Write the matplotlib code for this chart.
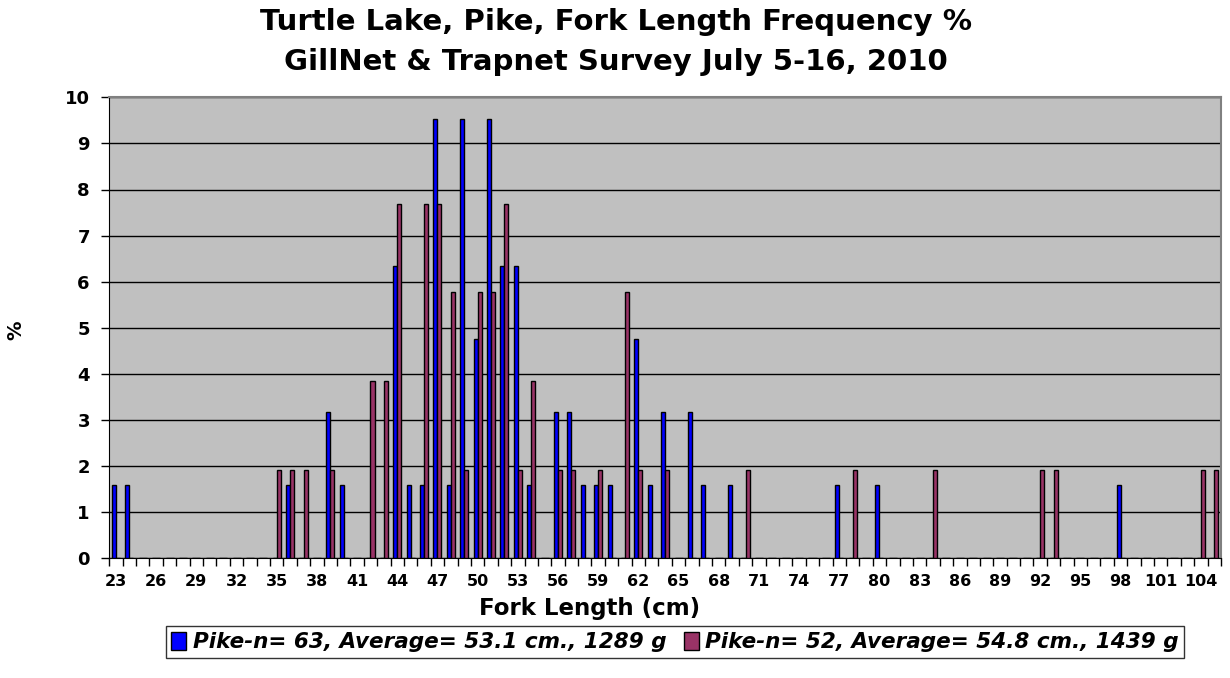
import matplotlib
matplotlib.use("Agg")
import matplotlib.pyplot as plt
import numpy as np

# Fork length classes (cm) on the category axis
lengths = list(range(23, 106))

# Gill net series: length class -> percent of catch
gill_len = [23, 24, 36, 39, 40, 44, 45, 46, 47, 48, 49, 50, 51, 52, 53, 54,
            56, 57, 58, 59, 60, 62, 63, 64, 66, 67, 69, 77, 80, 98]
gill_pct = [1.59, 1.59, 1.59, 3.17, 1.59, 6.35, 1.59, 1.59, 9.52, 1.59, 9.52,
            4.76, 9.52, 6.35, 6.35, 1.59, 3.17, 3.17, 1.59, 1.59, 1.59, 4.76,
            1.59, 3.17, 3.17, 1.59, 1.59, 1.59, 1.59, 1.59]

# Trap net series
trap_len = [35, 36, 37, 39, 42, 43, 44, 46, 47, 48, 49, 50, 51, 52, 53, 54,
            56, 57, 59, 61, 62, 64, 70, 78, 84, 92, 93, 104, 105]
trap_pct = [1.92, 1.92, 1.92, 1.92, 3.85, 3.85, 7.69, 7.69, 7.69, 5.77, 1.92,
            5.77, 5.77, 7.69, 1.92, 3.85, 1.92, 1.92, 1.92, 5.77, 1.92, 1.92,
            1.92, 1.92, 1.92, 1.92, 1.92, 1.92, 1.92]

series_labels = ["Pike-n= 63, Average= 53.1 cm., 1289 g",
                 "Pike-n= 52, Average= 54.8 cm., 1439 g"]
title_lines = ["Turtle Lake, Pike, Fork Length Frequency %",
               "GillNet & Trapnet Survey July 5-16, 2010"]

gill_vals = np.zeros(len(lengths))
trap_vals = np.zeros(len(lengths))
for L, v in zip(gill_len, gill_pct):
    gill_vals[lengths.index(L)] = v
for L, v in zip(trap_len, trap_pct):
    trap_vals[lengths.index(L)] = v

FONT = "DejaVu Sans"
plt.rcParams["font.family"] = [FONT]

fig = plt.figure(figsize=(12.3, 6.78), dpi=100)
fig.patch.set_facecolor("white")
ax = fig.add_axes([109.3 / 1230, 1 - 558.3 / 678, (1221 - 109.3) / 1230,
                   (558.3 - 97.3) / 678])
ax.set_facecolor("#C0C0C0")

x = np.arange(len(lengths))
bw = 0.3
b1 = ax.bar(x - bw / 2, gill_vals, width=bw, color="#0000FF",
            edgecolor="black", linewidth=1.0, label=series_labels[0], zorder=3)
b2 = ax.bar(x + bw / 2, trap_vals, width=bw, color="#993366",
            edgecolor="black", linewidth=1.0, label=series_labels[1], zorder=3)

ax.set_xlim(-0.5, len(lengths) - 0.5)
ax.set_ylim(0, 10)
ax.set_yticks(range(0, 11))
ax.yaxis.grid(True, color="black", linewidth=1.0, zorder=1)
ax.set_axisbelow(True)

# tick marks at category boundaries, labels every third class
ax.set_xticks(np.arange(-0.5, len(lengths), 1.0))
ax.set_xticklabels([])
ax.tick_params(axis="x", which="major", length=6, width=1, direction="out",
               color="black")
lab_pos = x[::3]
ax.set_xticks(lab_pos, minor=True)
ax.set_xticklabels([str(lengths[i]) for i in lab_pos], minor=True,
                   fontsize=11.5, fontweight="bold")
ax.tick_params(axis="x", which="minor", length=0, pad=11)
ax.tick_params(axis="y", length=6, width=1, direction="out", pad=8)
for t in ax.get_yticklabels():
    t.set_fontsize(13)
    t.set_fontweight("bold")

for side in ("top", "right"):
    ax.spines[side].set_color("#808080")
    ax.spines[side].set_linewidth(1.5)
ax.spines["left"].set_color("black")
ax.spines["bottom"].set_color("black")

ax.set_xlabel("Fork Length (cm)", fontsize=16.5, fontweight="bold")
ax.xaxis.set_label_coords((590 - 109.3) / (1221 - 109.3), -0.085)
fig.text(16 / 1230, 1 - 330 / 678, "%", rotation=90, fontsize=14,
         fontweight="bold", ha="center", va="center")

fig.text(616 / 1230, 1 - 22 / 678, title_lines[0], fontsize=21,
         fontweight="bold", ha="center", va="center")
fig.text(616 / 1230, 1 - 62 / 678, title_lines[1], fontsize=21,
         fontweight="bold", ha="center", va="center")

leg = fig.legend(handles=[b1, b2], loc="center",
                 bbox_to_anchor=(675 / 1230, 1 - 642 / 678), ncol=2,
                 frameon=True, fancybox=False, edgecolor="black",
                 handlelength=0.7, handleheight=0.9, handletextpad=0.3,
                 columnspacing=0.8, borderpad=0.25,
                 prop={"family": FONT, "weight": "bold", "style": "italic",
                       "size": 15.5})
leg.get_frame().set_linewidth(1.0)

fig.savefig("out.png", dpi=100, facecolor="white")
